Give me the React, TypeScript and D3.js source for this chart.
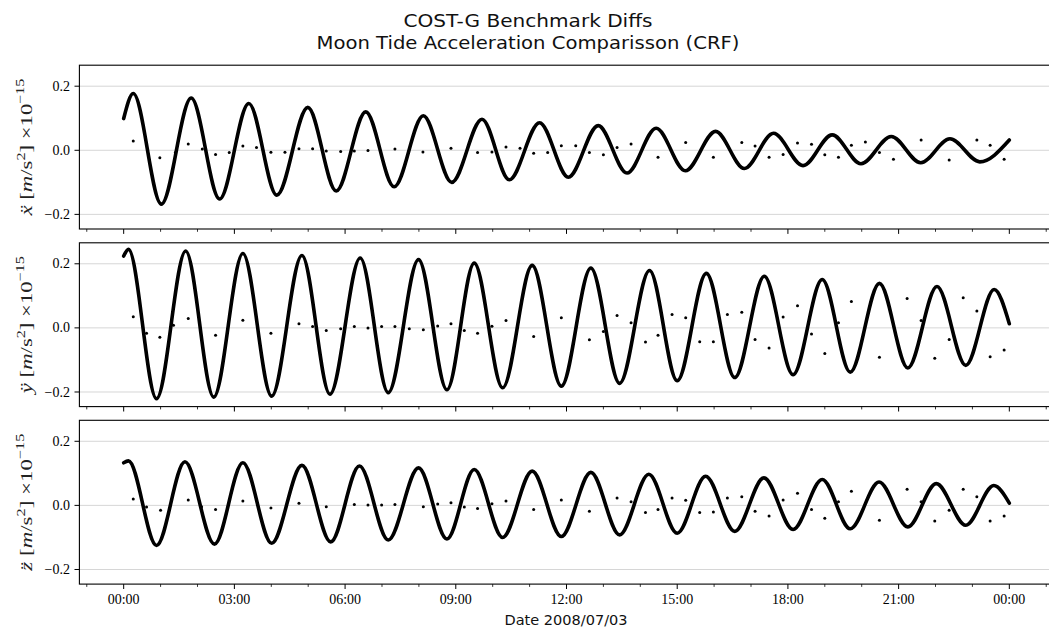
import React from 'react';
import * as d3 from 'd3';

// ---- data (hours since 2008/07/03 00:00, values in 1e-15 m/s^2) ----
// main curve turning points (start, alternating extrema, end)
const xCurve: [number, number][] = [
  [0, 0.099], [0.26, 0.177], [1.02, -0.168], [1.83, 0.163], [2.6, -0.152], [3.39, 0.146],
  [4.15, -0.14], [4.99, 0.134], [5.76, -0.127], [6.56, 0.12], [7.33, -0.114], [8.12, 0.108],
  [8.89, -0.1], [9.71, 0.097], [10.45, -0.092], [11.27, 0.086], [12.05, -0.084], [12.86, 0.077],
  [13.64, -0.071], [14.43, 0.069], [15.22, -0.064], [16.04, 0.059], [16.82, -0.057], [17.61, 0.053],
  [18.41, -0.048], [19.2, 0.048], [19.98, -0.042], [20.8, 0.043], [21.6, -0.039], [22.39, 0.036],
  [23.2, -0.036], [24.0, 0.032],
];
const yCurve: [number, number][] = [
  [0, 0.224], [0.13, 0.245], [0.89, -0.221], [1.68, 0.24], [2.44, -0.216], [3.23, 0.232],
  [4.01, -0.213], [4.83, 0.226], [5.59, -0.207], [6.41, 0.218], [7.17, -0.202], [7.99, 0.213],
  [8.76, -0.193], [9.5, 0.202], [10.27, -0.187], [11.07, 0.195], [11.86, -0.182], [12.66, 0.187],
  [13.44, -0.173], [14.25, 0.179], [15.0, -0.165], [15.79, 0.17], [16.56, -0.155], [17.36, 0.161],
  [18.14, -0.146], [18.93, 0.151], [19.69, -0.138], [20.48, 0.139], [21.25, -0.125], [22.04, 0.129],
  [22.82, -0.117], [23.59, 0.12], [24.0, 0.013],
];
const zCurve: [number, number][] = [
  [0, 0.133], [0.13, 0.139], [0.89, -0.125], [1.66, 0.136], [2.46, -0.121], [3.23, 0.133],
  [4.01, -0.118], [4.83, 0.125], [5.61, -0.114], [6.39, 0.123], [7.17, -0.108], [7.99, 0.117],
  [8.76, -0.105], [9.5, 0.112], [10.27, -0.1], [11.07, 0.107], [11.86, -0.097], [12.66, 0.103],
  [13.44, -0.092], [14.23, 0.097], [15.0, -0.087], [15.77, 0.091], [16.56, -0.081], [17.35, 0.086],
  [18.14, -0.075], [18.93, 0.081], [19.69, -0.073], [20.47, 0.073], [21.25, -0.067], [22.02, 0.068],
  [22.82, -0.062], [23.58, 0.062], [24.0, 0.007],
];

// sparse comparison points
const xDots: [number, number][] = [
  [0.26, 0.029], [0.98, -0.023], [1.4, -0.007], [1.75, 0.02], [2.13, 0.004], [2.49, -0.013],
  [2.86, -0.007], [3.23, 0.013], [3.6, 0.009], [3.99, -0.006], [4.37, -0.006], [4.75, 0.005],
  [5.12, 0.005], [5.49, -0.002], [5.88, -0.004], [6.25, -0.002], [6.62, -0.001], [7.35, 0.004],
  [8.11, -0.005], [8.87, 0.006], [9.59, -0.007], [9.98, -0.005], [10.36, 0.01], [10.74, 0.006],
  [11.11, -0.009], [11.49, -0.007], [11.86, 0.014], [12.25, 0.014], [12.62, -0.007], [13.0, -0.014],
  [13.37, 0.009], [13.75, 0.02], [14.48, -0.022], [15.23, 0.024], [15.98, -0.022], [16.75, 0.024],
  [17.11, 0.013], [17.49, -0.022], [17.87, -0.013], [18.26, 0.023], [18.64, 0.019], [19.0, -0.014],
  [19.37, -0.022], [19.72, 0.016], [20.1, 0.026], [20.48, -0.007], [20.86, -0.028], [21.61, 0.032],
  [22.37, -0.03], [23.12, 0.032], [23.48, 0.016], [23.86, -0.028],
];
const yDots: [number, number][] = [
  [0.26, 0.035], [0.62, -0.017], [0.98, -0.029], [1.35, 0.008], [1.75, 0.029], [2.49, -0.023],
  [3.23, 0.024], [3.99, -0.017], [4.75, 0.013], [5.12, 0.004], [5.49, -0.008], [5.88, -0.003],
  [6.25, 0.004], [6.62, 0.0], [6.99, 0.004], [7.35, 0.004], [7.74, -0.003], [8.12, -0.006],
  [8.51, 0.006], [8.87, 0.013], [9.23, -0.008], [9.59, -0.017], [9.98, 0.005], [10.36, 0.023],
  [11.11, -0.027], [11.86, 0.032], [12.62, -0.037], [13.0, -0.011], [13.37, 0.039], [13.75, 0.016],
  [14.14, -0.044], [14.48, -0.023], [14.86, 0.042], [15.23, 0.032], [15.61, -0.043], [15.98, -0.043],
  [16.36, 0.042], [16.75, 0.049], [17.11, -0.036], [17.49, -0.063], [17.87, 0.034], [18.26, 0.069],
  [18.64, -0.019], [19.0, -0.08], [19.37, 0.016], [19.72, 0.082], [20.48, -0.092], [21.23, 0.092],
  [21.61, 0.023], [21.98, -0.095], [22.37, -0.036], [22.75, 0.094], [23.12, 0.053], [23.48, -0.09],
  [23.86, -0.069],
];
const zDots: [number, number][] = [
  [0.26, 0.02], [0.62, -0.005], [1.0, -0.015], [1.75, 0.017], [2.11, -0.004], [2.49, -0.013],
  [3.23, 0.014], [3.99, -0.008], [4.75, 0.007], [5.49, -0.004], [6.25, 0.003], [6.62, 0.001],
  [6.99, 0.001], [7.35, 0.003], [8.12, -0.004], [8.51, 0.004], [8.87, 0.008], [9.23, -0.005],
  [9.59, -0.01], [9.98, 0.005], [10.36, 0.014], [11.11, -0.013], [11.86, 0.017], [12.62, -0.018],
  [13.37, 0.023], [13.75, 0.011], [14.14, -0.022], [14.48, -0.013], [14.86, 0.023], [15.23, 0.016],
  [15.61, -0.022], [15.98, -0.021], [16.36, 0.023], [16.75, 0.027], [17.11, -0.018], [17.49, -0.033],
  [17.87, 0.017], [18.26, 0.038], [18.64, -0.013], [19.0, -0.04], [19.37, 0.011], [19.72, 0.044],
  [20.48, -0.046], [21.23, 0.05], [21.61, 0.011], [21.98, -0.049], [22.37, -0.015], [22.75, 0.05],
  [23.12, 0.027], [23.48, -0.049], [23.86, -0.033],
];

const majorTickHours = [0, 3, 6, 9, 12, 15, 18, 21, 24];
const majorTickLabels = ['00:00', '03:00', '06:00', '09:00', '12:00', '15:00', '18:00', '21:00', '00:00'];
const minorTickHours = [-1, 1, 2, 4, 5, 7, 8, 10, 11, 13, 14, 16, 17, 19, 20, 22, 23, 25];
const yTickValues = [-0.2, 0, 0.2];
const yTickLabels = ['\u22120.2', '0.0', '0.2'];
const axisVars = ['\u1E8D', '\u00FF', 'z\u0308'];

const titleLines = ['COST-G Benchmark Diffs', 'Moon Tide Acceleration Comparisson (CRF)'];
const xAxisLabel = 'Date 2008/07/03';

// ---- layout ----
const W = 1049;
const H = 633;
const LEFT = 79.4;
const RIGHT = 1053.6;
const PANEL_TOPS = [65.2, 242.8, 420.3];
const PANEL_H = 163.8;
const SERIF = "'Liberation Serif', 'Times New Roman', serif";
const SANS = "'DejaVu Sans', 'Liberation Sans', sans-serif";

export default function App() {
  const x = d3.scaleLinear().domain([-1.2, 25.2]).range([LEFT, RIGHT]);
  const curves = [xCurve, yCurve, zCurve];
  const dots = [xDots, yDots, zDots];

  return (
    <svg
      width={W}
      height={H}
      viewBox={`0 0 ${W} ${H}`}
      style={{ position: 'absolute', left: 0, top: 0, background: '#fff' }}
    >
      <rect x={0} y={0} width={W} height={H} fill="#fff" />
      <text x={528} y={26.5} textAnchor="middle" fontFamily={SANS} fontSize={18} fill="#111" textLength={249} lengthAdjust="spacingAndGlyphs">
        {titleLines[0]}
      </text>
      <text x={528} y={48.5} textAnchor="middle" fontFamily={SANS} fontSize={18} fill="#111" textLength={423} lengthAdjust="spacingAndGlyphs">
        {titleLines[1]}
      </text>

      {curves.map((curve, i) => {
        const top = PANEL_TOPS[i];
        const bottom = top + PANEL_H;
        const y = d3.scaleLinear().domain([-0.2456, 0.2655]).range([bottom, top]);
        const line = d3
          .line<[number, number]>()
          .x((d) => x(d[0]))
          .y((d) => y(d[1]))
          .curve(d3.curveMonotoneX);
        const cy = (top + bottom) / 2;
        return (
          <g key={i}>
            <defs>
              <clipPath id={`clip${i}`}>
                <rect x={LEFT} y={top} width={RIGHT - LEFT} height={PANEL_H} />
              </clipPath>
            </defs>
            {yTickValues.map((v, k) => (
              <line key={k} x1={LEFT} x2={RIGHT} y1={y(v)} y2={y(v)} stroke="#d6d6d6" strokeWidth={1} />
            ))}
            <g clipPath={`url(#clip${i})`}>
              <path d={line(curve) || ''} fill="none" stroke="#000" strokeWidth={3.6} strokeLinejoin="round" strokeLinecap="round" />
              {dots[i].map((d, k) => (
                <circle key={k} cx={x(d[0])} cy={y(d[1])} r={1.5} fill="#000" />
              ))}
            </g>
            <rect x={LEFT} y={top} width={RIGHT - LEFT} height={PANEL_H} fill="none" stroke="#000" strokeWidth={1.1} />
            {yTickValues.map((v, k) => (
              <g key={k}>
                <line x1={LEFT - 4.9} x2={LEFT} y1={y(v)} y2={y(v)} stroke="#000" strokeWidth={1} />
                <text x={LEFT - 9.5} y={y(v) + 4.6} textAnchor="end" fontFamily={SERIF} fontSize={14}>
                  {yTickLabels[k]}
                </text>
              </g>
            ))}
            {majorTickHours.map((h, k) => (
              <line key={`M${k}`} x1={x(h)} x2={x(h)} y1={bottom} y2={bottom + 4.9} stroke="#000" strokeWidth={1} />
            ))}
            {minorTickHours.map((h, k) => (
              <line key={`m${k}`} x1={x(h)} x2={x(h)} y1={bottom} y2={bottom + 2.8} stroke="#000" strokeWidth={0.8} />
            ))}
            {i === 2 &&
              majorTickHours.map((h, k) => (
                <text key={`L${k}`} x={x(h)} y={bottom + 19.5} textAnchor="middle" fontFamily={SERIF} fontSize={14}>
                  {majorTickLabels[k]}
                </text>
              ))}
            <text
              transform={`translate(31.5, ${cy}) rotate(-90)`}
              textAnchor="middle"
              fontFamily={SERIF}
              fontSize={17}
              fill="#222"
              textLength={137}
              lengthAdjust="spacingAndGlyphs"
            >
              <tspan fontStyle="italic">{axisVars[i]}</tspan>
              <tspan>{' ['}</tspan>
              <tspan fontStyle="italic">m</tspan>
              <tspan>/s</tspan>
              <tspan dy={-7} fontSize={12}>2</tspan>
              <tspan dy={7}>{'] \u00D710'}</tspan>
              <tspan dy={-7.5} fontSize={12}>{'\u221215'}</tspan>
            </text>
          </g>
        );
      })}

      <text x={566} y={625} textAnchor="middle" fontFamily={SANS} fontSize={14} fill="#111" textLength={123} lengthAdjust="spacingAndGlyphs">
        {xAxisLabel}
      </text>
    </svg>
  );
}
